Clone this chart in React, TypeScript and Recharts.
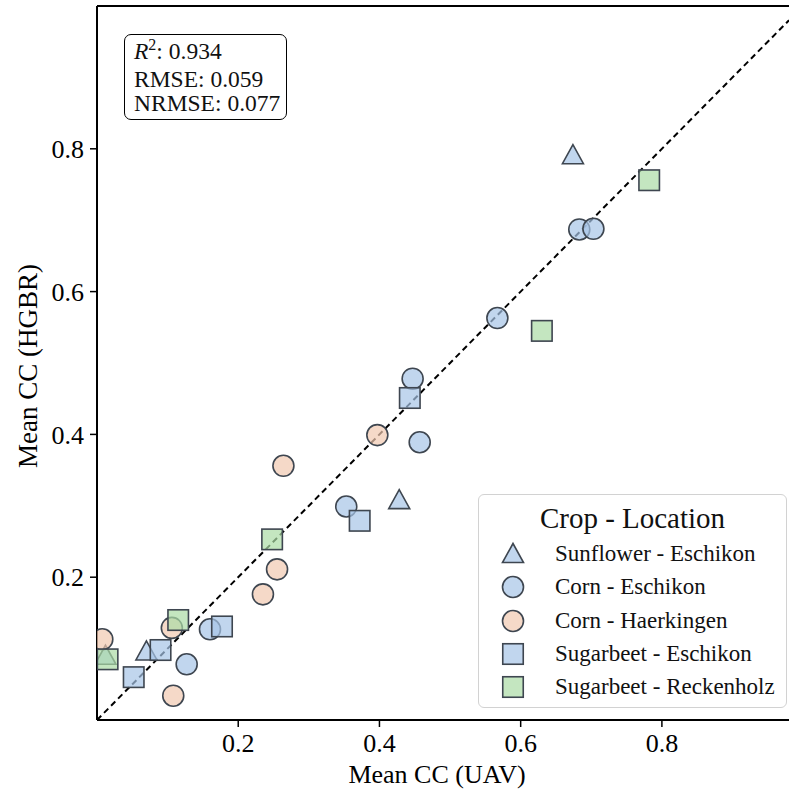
import React from "react";
import { ScatterChart, Scatter, XAxis, YAxis, ReferenceLine } from "recharts";

// Mean CC: UAV (x) vs HGBR prediction (y)
const sunflowerEschikon = [
  { x: 0.674, y: 0.791 },
  { x: 0.428, y: 0.308 },
  { x: 0.07, y: 0.096 },
  { x: 0.012, y: 0.09 },
];

const cornEschikon = [
  { x: 0.683, y: 0.687 },
  { x: 0.703, y: 0.688 },
  { x: 0.567, y: 0.563 },
  { x: 0.447, y: 0.478 },
  { x: 0.457, y: 0.389 },
  { x: 0.353, y: 0.299 },
  { x: 0.16, y: 0.127 },
  { x: 0.127, y: 0.078 },
];

const cornHaerkingen = [
  { x: 0.397, y: 0.399 },
  { x: 0.264, y: 0.356 },
  { x: 0.255, y: 0.211 },
  { x: 0.235, y: 0.176 },
  { x: 0.106, y: 0.129 },
  { x: 0.108, y: 0.034 },
  { x: 0.0075, y: 0.113 },
];

const sugarbeetEschikon = [
  { x: 0.443, y: 0.451 },
  { x: 0.372, y: 0.279 },
  { x: 0.177, y: 0.131 },
  { x: 0.09, y: 0.098 },
  { x: 0.052, y: 0.06 },
];

const sugarbeetReckenholz = [
  { x: 0.782, y: 0.756 },
  { x: 0.63, y: 0.545 },
  { x: 0.248, y: 0.253 },
  { x: 0.115, y: 0.14 },
  { x: 0.015, y: 0.085 },
];

const xTicks = [0.2, 0.4, 0.6, 0.8];
const yTicks = [0.2, 0.4, 0.6, 0.8];

const metrics = [
  { name: "R2", value: "0.934" },
  { name: "RMSE", value: "0.059" },
  { name: "NRMSE", value: "0.077" },
];

const BLUE = "#a6c4e7";
const PEACH = "#f1c9b0";
const GREEN = "#abdba5";
const EDGE = "#3e4650";
const ALPHA = 0.7;
const FONT = "'Liberation Serif', 'DejaVu Serif', serif";

const series = [
  { name: "Sunflower - Eschikon", data: sunflowerEschikon, fill: BLUE, marker: "triangle" },
  { name: "Corn - Eschikon", data: cornEschikon, fill: BLUE, marker: "circle" },
  { name: "Corn - Haerkingen", data: cornHaerkingen, fill: PEACH, marker: "circle" },
  { name: "Sugarbeet - Eschikon", data: sugarbeetEschikon, fill: BLUE, marker: "square" },
  { name: "Sugarbeet - Reckenholz", data: sugarbeetReckenholz, fill: GREEN, marker: "square" },
];

const Marker = ({ kind, cx, cy, fill }: { kind: string; cx: number; cy: number; fill: string }) => {
  const common = { fill, fillOpacity: ALPHA, stroke: EDGE, strokeWidth: 1.6 };
  if (kind === "circle") return <circle cx={cx} cy={cy} r={10.5} {...common} />;
  if (kind === "square") return <rect x={cx - 10.25} y={cy - 10.25} width={20.5} height={20.5} {...common} />;
  return (
    <polygon
      points={`${cx},${cy - 10.5} ${cx - 10.5},${cy + 8.5} ${cx + 10.5},${cy + 8.5}`}
      strokeLinejoin="miter"
      {...common}
    />
  );
};

const makeShape = (kind: string, fill: string) => (props: any) =>
  props.cx == null ? <g /> : <Marker kind={kind} cx={props.cx} cy={props.cy} fill={fill} />;

const tickStyle = { fontSize: 26, fill: "#000", fontFamily: FONT };

export default function App() {
  return (
    <div style={{ position: "absolute", left: 0, top: 0, width: 789, height: 794, fontFamily: FONT, background: "#fff" }}>
      <ScatterChart width={789} height={794} margin={{ top: 6, right: 0, bottom: 0, left: 0 }}>
        <XAxis
          dataKey="x"
          type="number"
          domain={[0, 0.98]}
          allowDataOverflow
          ticks={xTicks}
          tickFormatter={(v: number) => v.toFixed(1)}
          height={74}
          tick={tickStyle}
          tickSize={7}
          tickMargin={7}
          tickLine={{ stroke: "#000", strokeWidth: 1.5 }}
          axisLine={{ stroke: "#000", strokeWidth: 2 }}
          label={{ value: "Mean CC (UAV)", position: "insideBottom", offset: 11, dx: -6, fontSize: 26, fill: "#000", fontFamily: FONT }}
        />
        <YAxis
          dataKey="y"
          type="number"
          domain={[0, 1]}
          allowDataOverflow
          ticks={yTicks}
          tickFormatter={(v: number) => v.toFixed(1)}
          width={97}
          tick={tickStyle}
          tickSize={7}
          tickMargin={6}
          tickLine={{ stroke: "#000", strokeWidth: 1.5 }}
          axisLine={{ stroke: "#000", strokeWidth: 2 }}
          label={{ value: "Mean CC (HGBR)", angle: -90, position: "center", dx: -21, dy: 3, fontSize: 27, fill: "#000", fontFamily: FONT }}
        />
        {series.map((s) => (
          <Scatter
            key={s.name}
            name={s.name}
            data={s.data}
            shape={makeShape(s.marker, s.fill)}
            isAnimationActive={false}
          />
        ))}
        <ReferenceLine y={1} stroke="#000" strokeWidth={2} />
        <ReferenceLine
          segment={[{ x: 0, y: 0 }, { x: 0.98, y: 0.98 }]}
          stroke="#000"
          strokeWidth={2}
          strokeDasharray="6 4"
        />
      </ScatterChart>

      {/* metrics box */}
      <div
        style={{
          position: "absolute",
          left: 124,
          top: 34,
          width: 163,
          height: 86,
          boxSizing: "border-box",
          border: "1.5px solid #000",
          borderRadius: 7,
          background: "#fff",
          padding: "4px 0 0 9px",
          fontSize: 23.5,
          lineHeight: "24.5px",
          color: "#111",
        }}
      >
        {metrics.map((m) => (
          <div key={m.name} style={{ whiteSpace: "nowrap" }}>
            {m.name === "R2" ? (
              <>
                <i>R</i>
                <sup style={{ fontSize: 16, verticalAlign: 0, position: "relative", top: -9 }}>2</sup>
              </>
            ) : (
              m.name
            )}
            : {m.value}
          </div>
        ))}
      </div>

      {/* legend */}
      <div
        style={{
          position: "absolute",
          left: 478,
          top: 494,
          width: 309,
          height: 214,
          boxSizing: "border-box",
          border: "1px solid #d2d2d2",
          borderRadius: 6,
          background: "rgba(255,255,255,0.85)",
          color: "#111",
        }}
      >
        <div style={{ position: "absolute", left: 0, right: 0, top: 6, textAlign: "center", fontSize: 29, lineHeight: "34px" }}>
          Crop - Location
        </div>
        {series.map((s, i) => (
          <div
            key={s.name}
            style={{ position: "absolute", left: 0, top: 44 + i * 33.3, height: 30, width: 305 }}
          >
            <svg width={50} height={30} style={{ position: "absolute", left: 9, top: 0 }}>
              <Marker kind={s.marker} cx={25} cy={15} fill={s.fill} />
            </svg>
            <div style={{ position: "absolute", left: 76, top: 0, fontSize: 23, lineHeight: "30px", whiteSpace: "nowrap" }}>
              {s.name}
            </div>
          </div>
        ))}
      </div>
    </div>
  );
}
